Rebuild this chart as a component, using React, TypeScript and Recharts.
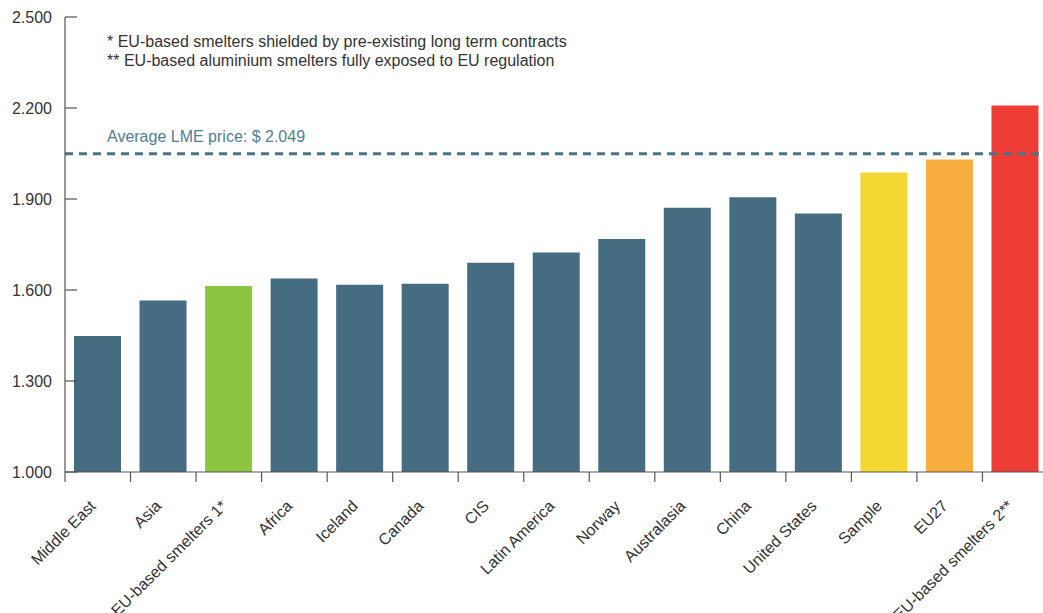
import { BarChart, Bar, XAxis, YAxis, Cell, ReferenceLine, Customized } from "recharts";

const REGIONS = [
  "Middle East",
  "Asia",
  "EU-based smelters 1*",
  "Africa",
  "Iceland",
  "Canada",
  "CIS",
  "Latin America",
  "Norway",
  "Australasia",
  "China",
  "United States",
  "Sample",
  "EU27",
  "EU-based smelters 2**",
];
const COSTS = [1448, 1565, 1613, 1638, 1617, 1621, 1690, 1724, 1768, 1871, 1906, 1852, 1987, 2030, 2208];
const BAR_COLORS = [
  "#456c80", "#456c80", "#8cc540", "#456c80", "#456c80", "#456c80", "#456c80", "#456c80",
  "#456c80", "#456c80", "#456c80", "#456c80", "#f4d831", "#fbae40", "#ee3d36",
];
const Y_TICKS = [1000, 1300, 1600, 1900, 2200, 2500];
const LME_PRICE = 2049;
const NOTES = [
  "* EU-based smelters shielded by pre-existing long term contracts",
  "** EU-based aluminium smelters fully exposed to EU regulation",
];

const data = REGIONS.map((name, i) => ({ name, value: COSTS[i], color: BAR_COLORS[i] }));

const FONT = "'Liberation Sans', Arial, Helvetica, sans-serif";
const TEXT = "#333333";
const AXIS = "#555555";

// 2500 -> "2.500"
const fmt = (v: number) => `${Math.floor(v / 1000)}.${String(v % 1000).padStart(3, "0")}`;

function YTick(props: any) {
  const { x, y, payload } = props;
  return (
    <g>
      <text x={x} y={y} dy="0.35em" textAnchor="end" fontSize={16} fill={TEXT} fontFamily={FONT}>
        {fmt(payload.value)}
      </text>
      <line x1={x + 13} x2={x + 25} y1={y} y2={y} stroke={AXIS} strokeWidth={1.2} />
    </g>
  );
}

function XTick(props: any) {
  const { x, y, payload } = props;
  const half = payload?.offset ?? 32.75;
  const ax = x - 1;
  const ay = y + 35;
  return (
    <g>
      <line x1={x - half} x2={x - half} y1={y} y2={y + 10} stroke={AXIS} strokeWidth={1.2} />
      <text
        x={ax}
        y={ay}
        transform={`rotate(-45 ${ax} ${ay})`}
        textAnchor="end"
        fontSize={16}
        fill={TEXT}
        fontFamily={FONT}
      >
        {payload.value}
      </text>
    </g>
  );
}

function Notes() {
  return (
    <g>
      {NOTES.map((t, i) => (
        <text key={i} x={107} y={47 + i * 19} fontSize={16} fill={TEXT} fontFamily={FONT}>
          {t}
        </text>
      ))}
    </g>
  );
}

function LmeLabel(props: any) {
  const vb = props.viewBox || { x: 65, y: 153 };
  return (
    <text x={vb.x + 42} y={vb.y - 12} fontSize={16} fill="#4f7e94" fontFamily={FONT}>
      {`Average LME price: $ ${fmt(LME_PRICE)}`}
    </text>
  );
}

export default function App() {
  return (
    <div
      style={{
        position: "absolute",
        left: 0,
        top: 0,
        width: 1043,
        height: 613,
        overflow: "hidden",
        background: "#fff",
        fontFamily: FONT,
      }}
    >
      <BarChart width={1048} height={613} data={data} margin={{ top: 17, right: 0, left: 0, bottom: 0 }}>
        <XAxis
          dataKey="name"
          interval={0}
          height={141}
          tickSize={0}
          tickMargin={0}
          tickLine={false}
          axisLine={{ stroke: AXIS, strokeWidth: 1.2 }}
          tick={<XTick />}
        />
        <YAxis
          domain={[1000, 2500]}
          ticks={Y_TICKS}
          width={65}
          tickSize={0}
          tickMargin={13}
          tickLine={false}
          allowDataOverflow
          axisLine={{ stroke: AXIS, strokeWidth: 1.2 }}
          tick={<YTick />}
        />
        <Bar dataKey="value" barSize={47} isAnimationActive={false}>
          {data.map((d, i) => (
            <Cell key={i} fill={d.color} />
          ))}
        </Bar>
        <ReferenceLine
          y={LME_PRICE}
          stroke="#4b7387"
          strokeWidth={3}
          strokeDasharray="8 6"
          label={<LmeLabel />}
        />
        <Customized component={Notes} />
      </BarChart>
    </div>
  );
}
